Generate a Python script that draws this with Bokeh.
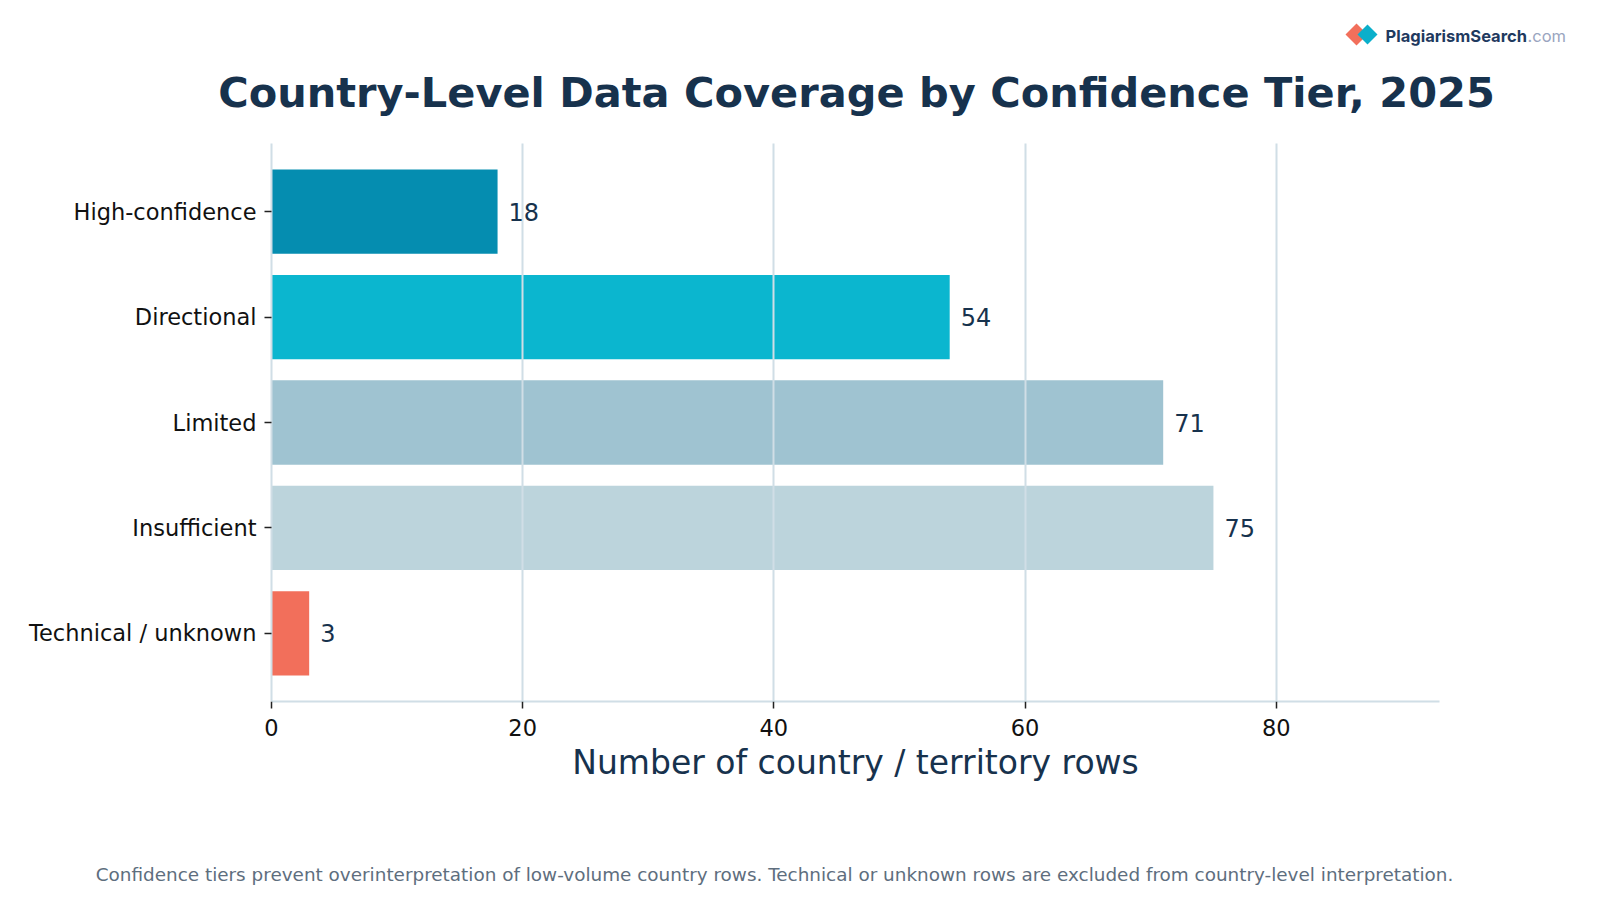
from bokeh.plotting import figure
from bokeh.layouts import column
from bokeh.models import FactorRange, Range1d, ColumnDataSource, FixedTicker
from bokeh.core.properties import value
from bokeh.embed import file_html
from bokeh.resources import INLINE

# Confidence tiers, listed top to bottom
tiers = ["High-confidence", "Directional", "Limited", "Insufficient", "Technical / unknown"]
counts = [18, 54, 71, 75, 3]
tier_colors = ["#058DB0", "#0BB6CF", "#9FC3D1", "#BCD4DC", "#F26F5B"]
x_ticks = [0, 20, 40, 60, 80]

title_text = "Country-Level Data Coverage by Confidence Tier, 2025"
x_label = "Number of country / territory rows"
footer_text = ("Confidence tiers prevent overinterpretation of low-volume country rows. "
               "Technical or unknown rows are excluded from country-level interpretation.")
brand_name = "PlagiarismSearch"
brand_suffix = ".com"

NAVY = "#17324D"
GRID = "#D0DEE6"
FONT = "DejaVu Sans"

W = 1600
HEAD_H, MAIN_H, FOOT_H = 140, 710, 50


def canvas(height):
    """A bare figure whose data units are canvas pixels (y grows downward)."""
    f = figure(width=W, height=height, x_range=Range1d(0, W), y_range=Range1d(height, 0),
               x_axis_location=None, y_axis_location=None,
               output_backend="svg", toolbar_location=None,
               min_border=0, background_fill_color="white", border_fill_color="white")
    f.outline_line_color = None
    f.grid.grid_line_color = None
    f.frame_align = False
    return f


# ---- header: brand mark and title ----
head = canvas(HEAD_H)
head.patch(x=[1345, 1356, 1367, 1356], y=[34, 23, 34, 45], color="#F26F5B", line_color=None)
head.patch(x=[1357, 1367, 1377, 1367], y=[34, 24, 34, 44], color="#0BAFCB", line_color=None)
head.text(x=[1385], y=[35], text=[brand_name], text_baseline="middle",
          text_font=value("Inter"), text_font_style="bold", text_font_size="16.5px",
          text_color="#1F3A5F")
head.text(x=[1527], y=[35], text=[brand_suffix], text_baseline="middle", text_align="left",
          text_font=value("Inter"), text_font_size="16.5px", text_color="#9AA5C0")
head.text(x=[856], y=[92], text=[title_text], text_align="center", text_baseline="middle",
          text_font=value(FONT), text_font_style="bold", text_font_size="41.5px",
          text_color=NAVY)

# ---- main bar chart ----
src = ColumnDataSource(dict(
    tier=tiers,
    count=counts,
    color=tier_colors,
    label=[str(c) for c in counts],
))

p = figure(
    width=W, height=MAIN_H,
    y_range=FactorRange(factors=list(reversed(tiers)),
                        range_padding=0.147, range_padding_units="absolute"),
    x_range=Range1d(0, 93),
    output_backend="svg", toolbar_location=None,
    min_border_left=271, min_border_right=161, min_border_top=3, min_border_bottom=149,
    background_fill_color="white", border_fill_color="white",
)
p.outline_line_color = None
p.frame_align = False

p.hbar(y="tier", right="count", left=0, height=0.8, color="color",
       line_color=None, source=src)

labels = p.text(x="count", y="tier", text="label", source=src,
                x_offset=11, text_align="left", text_baseline="middle",
                text_font=value(FONT), text_font_size="24px", text_color=NAVY)
labels.level = "overlay"

# Vertical grid drawn above the bars, below the value labels
p.ygrid.grid_line_color = None
p.xgrid.grid_line_color = GRID
p.xgrid.grid_line_width = 2
p.xgrid.level = "annotation"
p.xaxis.ticker = FixedTicker(ticks=x_ticks)

for ax in (p.xaxis[0], p.yaxis[0]):
    ax.axis_line_color = GRID
    ax.axis_line_width = 2
    ax.major_tick_line_color = "#222222"
    ax.major_tick_line_width = 1.5
    ax.major_tick_out = 7
    ax.major_tick_in = 0
    ax.minor_tick_line_color = None
    ax.major_label_text_font = FONT
    ax.major_label_text_font_size = "22.5px"
    ax.major_label_text_color = "#111111"

p.yaxis.major_label_standoff = 8
p.xaxis.major_label_standoff = 10
p.xaxis.axis_label = x_label
p.xaxis.axis_label_text_font = FONT
p.xaxis.axis_label_text_font_style = "normal"
p.xaxis.axis_label_text_font_size = "33px"
p.xaxis.axis_label_text_color = NAVY
p.xaxis.axis_label_standoff = 4

# ---- footer note ----
foot = canvas(FOOT_H)
foot.text(x=[774], y=[23.5], text=[footer_text], text_align="center", text_baseline="middle",
          text_font=value(FONT), text_font_size="18.4px", text_color="#5E6E7E")

page = column(head, p, foot, spacing=0)
open("out.html", "w").write(file_html(page, INLINE))
